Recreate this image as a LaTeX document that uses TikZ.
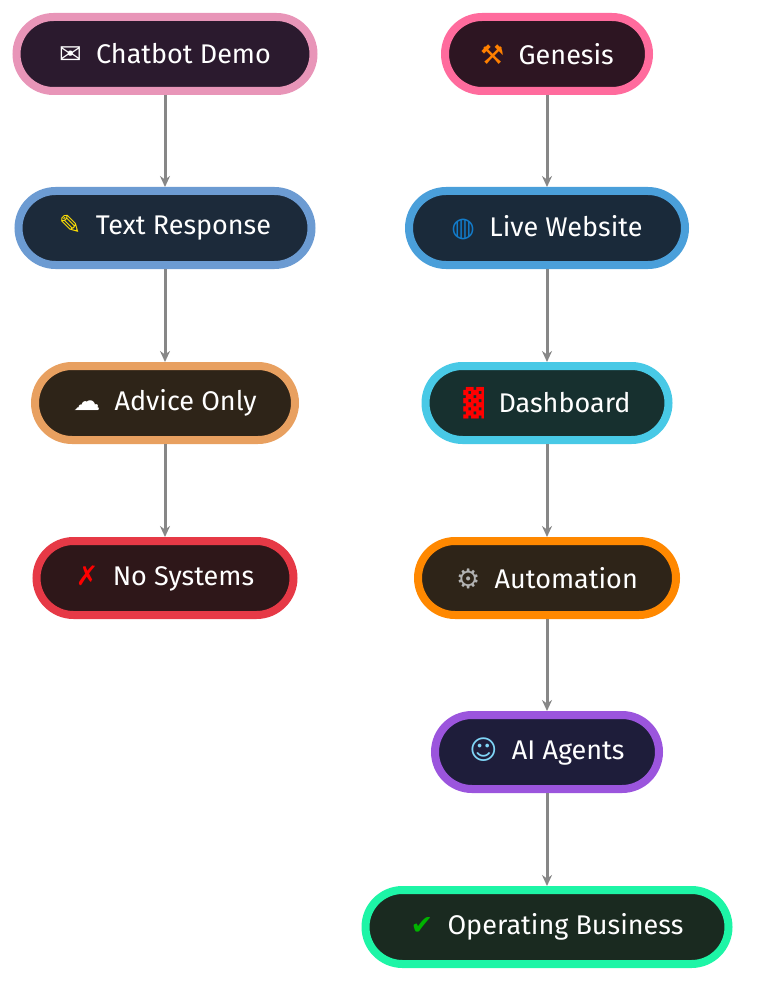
\documentclass[tikz,border=0pt]{standalone}
\usepackage{fontspec}
\setmainfont{Fira Sans}
\newfontfamily\sym{DejaVu Sans}
\usetikzlibrary{arrows.meta}
\definecolor{b1}{HTML}{E895B8}\definecolor{f1}{HTML}{2B1A2E}
\definecolor{b2}{HTML}{6C9BD2}\definecolor{f2}{HTML}{1C2A3A}
\definecolor{b3}{HTML}{E8A060}\definecolor{f3}{HTML}{2E2418}
\definecolor{b4}{HTML}{E63946}\definecolor{f4}{HTML}{2E1719}
\definecolor{c1}{HTML}{FF6B9D}\definecolor{g1}{HTML}{2D1522}
\definecolor{c2}{HTML}{4A9FDA}\definecolor{g2}{HTML}{1A2A3A}
\definecolor{c3}{HTML}{48C9E6}\definecolor{g3}{HTML}{17302F}
\definecolor{c4}{HTML}{FF8800}\definecolor{g4}{HTML}{2E2418}
\definecolor{c5}{HTML}{9B55DD}\definecolor{g5}{HTML}{1E1D3A}
\definecolor{c6}{HTML}{1DF5A6}\definecolor{g6}{HTML}{1A2A20}
\begin{document}
\begin{tikzpicture}[x=1pt,y=-1pt,
 box/.style n args={3}{draw=#1,fill=#2,line width=8pt,rounded corners=37pt,minimum width=#3,minimum height=74pt,text=white,font=\fontsize{27}{30}\selectfont,inner sep=0pt},
 arr/.style={draw=black!47,line width=3pt,-{Stealth[length=11pt,width=10pt]}}]
\useasboundingbox (0,0) rectangle (760,1000);
\node[box={b1}{f1}{297pt}] (a1) at (165,54) {{\sym\char"2709}~~Chatbot Demo};
\node[box={b2}{f2}{293pt}] (a2) at (165,228) {{\sym\color{yellow!80!orange}\char"270E}~~Text Response};
\node[box={b3}{f3}{260pt}] (a3) at (165,403) {{\sym\char"2601}~~Advice Only};
\node[box={b4}{f4}{257pt}] (a4) at (165,578) {{\sym\color{red}\char"2717}~~No Systems};
\node[box={c1}{g1}{204pt}] (b1) at (547,54) {{\sym\color{orange}\char"2692}~~Genesis};
\node[box={c2}{g2}{276pt}] (b2) at (547,228) {{\sym\color{cyan!60!blue}\char"25CD}~~Live Website};
\node[box={c3}{g3}{243pt}] (b3) at (547,403) {{\sym\color{red}\char"2593}~~Dashboard};
\node[box={c4}{g4}{258pt}] (b4) at (547,578) {{\sym\color{gray!60}\char"2699}~~Automation};
\node[box={c5}{g5}{224pt}] (b5) at (547,752) {{\sym\color{cyan!50}\char"263A}~~AI Agents};
\node[box={c6}{g6}{363pt}] (b6) at (547,927) {{\sym\color{green!70!black}\char"2714}~~Operating Business};
\draw[arr] (a1) -- (a2); \draw[arr] (a2) -- (a3); \draw[arr] (a3) -- (a4);
\draw[arr] (b1) -- (b2); \draw[arr] (b2) -- (b3); \draw[arr] (b3) -- (b4);
\draw[arr] (b4) -- (b5); \draw[arr] (b5) -- (b6);
\end{tikzpicture}
\end{document}
